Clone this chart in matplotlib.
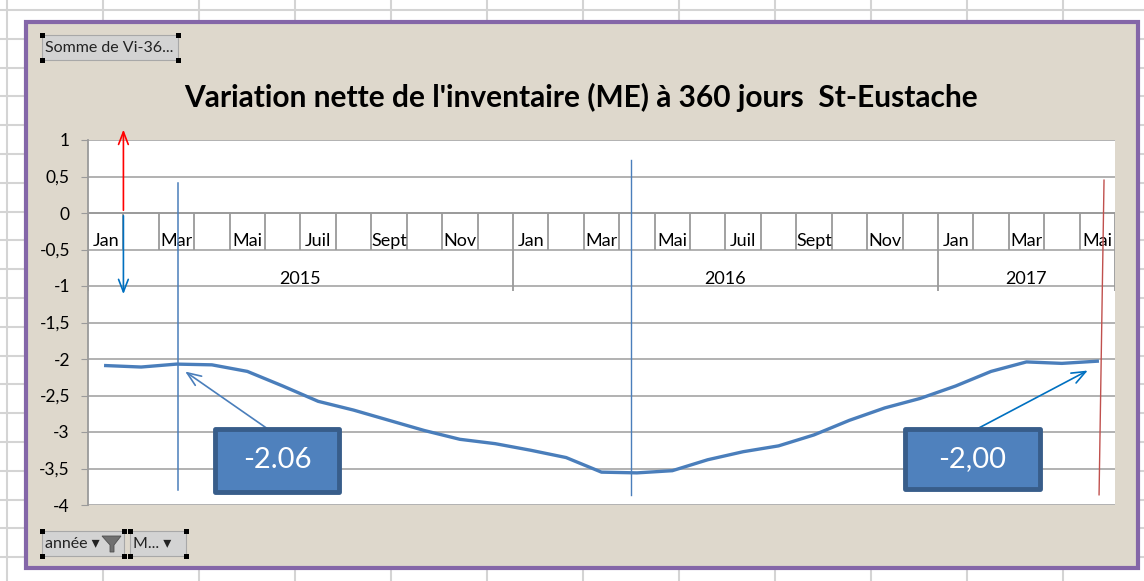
import numpy as np
import matplotlib
matplotlib.use("Agg")
import matplotlib.pyplot as plt
from matplotlib.patches import Rectangle, Polygon

plt.rcParams['font.family'] = ['Lato', 'DejaVu Sans']

# data ------------------------------------------------------------
years = [2015, 2016, 2017]
month_names = ['Jan', 'Fév', 'Mar', 'Avr', 'Mai', 'Juin', 'Juil', 'Août',
               'Sept', 'Oct', 'Nov', 'Déc']
months_per_year = [12, 12, 5]
values = [-2.09, -2.11, -2.07, -2.08, -2.17, -2.37, -2.58, -2.70, -2.84,
          -2.98, -3.10, -3.16, -3.25, -3.35, -3.55, -3.56, -3.53, -3.38,
          -3.27, -3.19, -3.04, -2.84, -2.67, -2.54, -2.37, -2.17, -2.04,
          -2.06, -2.03]
yticks = [1, 0.5, 0, -0.5, -1, -1.5, -2, -2.5, -3, -3.5, -4]
title = "Variation nette de l'inventaire (ME) à 360 jours  St-Eustache"
callouts = ["-2.06", "-2,00"]

W, H = 1144, 581
fig = plt.figure(figsize=(W / 100, H / 100), dpi=100)
fig.patch.set_facecolor('white')

# background: spreadsheet cells + chart frame (pixel coords)
bg = fig.add_axes([0, 0, 1, 1])
bg.set_xlim(0, W)
bg.set_ylim(H, 0)
bg.axis('off')
for gx in np.arange(7, W, 96):
    bg.axvline(gx, color='#D4D4D4', lw=1.5)
for gy in np.arange(10, H, 28.8):
    bg.axhline(gy, color='#D4D4D4', lw=1.5)
bg.add_patch(Rectangle((26, 22), 1112, 546, facecolor='#DED8CC',
                       edgecolor='#8466A8', lw=3, zorder=2))
bg.text(581, 97, title, ha='center', va='center', fontsize=21.5,
        fontweight='bold', zorder=3)


def field_button(x0, x1, y0, y1, label):
    bg.add_patch(Rectangle((x0, y0), x1 - x0, y1 - y0, facecolor='#D3D3D3',
                           edgecolor='#A8A8A8', lw=0.8, zorder=3))
    for cx in (x0, x1):
        for cy in (y0, y1):
            bg.add_patch(Rectangle((cx - 2.5, cy - 2.5), 5, 5,
                                   facecolor='black', zorder=4))
    bg.text(x0 + 3, (y0 + y1) / 2 + 1, label, ha='left', va='center',
            fontsize=11.5, color='#222222', zorder=4)


field_button(42, 178, 35, 60, 'Somme de Vi-36...')
field_button(42, 124, 531, 556, 'année ▾')
field_button(130, 186, 531, 556, 'M... ▾')
bg.add_patch(Polygon([(102, 536), (121, 536), (114, 545), (114, 552),
                      (110, 552), (110, 545)], closed=True,
                     facecolor='#707070', edgecolor='#505050', lw=0.6,
                     zorder=5))

# main plot -------------------------------------------------------
left, right, top, bottom = 88, 1115, 140, 505
ax = fig.add_axes([left / W, (H - bottom) / H, (right - left) / W,
                   (bottom - top) / H])
ax.set_facecolor('white')
n = len(values)
x = np.arange(n) + 0.5
ax.set_xlim(0, n)
ax.set_ylim(-4, 1)
ax.set_yticks(yticks)
ax.set_yticklabels([f'{v:g}'.replace('.', ',') for v in yticks],
                   fontsize=12.5)
ax.tick_params(axis='y', length=5, color='#9A9A9A', pad=8)
ax.set_xticks([])
ax.grid(axis='y', color='#ABABAB', lw=1.3)
ax.set_axisbelow(True)
for s in ('top', 'right', 'bottom'):
    ax.spines[s].set_visible(False)
ax.spines['left'].set_color('#9A9A9A')
ax.spines['left'].set_linewidth(1.3)

# multi-level category axis crossing at 0
ax.axhline(0, color='#9A9A9A', lw=1.3, zorder=1)
ax.vlines(np.arange(n + 1), -0.5, 0, color='#9A9A9A', lw=1.3, zorder=1)
labels = []
for yr, cnt in zip(years, months_per_year):
    labels += month_names[:cnt]
for i, lab in enumerate(labels):
    if i % 2 == 0:
        ax.text(i + 0.5, -0.38, lab, ha='center', va='center', fontsize=13)
starts = np.concatenate([[0], np.cumsum(months_per_year)])
ax.vlines(starts, -1.07, -0.5, color='#9A9A9A', lw=1.3, zorder=1)
for yr, a, b in zip(years, starts[:-1], starts[1:]):
    ax.text((a + b) / 2, -0.9, str(yr), ha='center', va='center',
            fontsize=13)

ax.plot(x, values, color='#4A7EBB', lw=2.4, solid_joinstyle='round',
        zorder=3)

# drawn annotations
ax.annotate('', xy=(1, 1.18), xytext=(1, 0), annotation_clip=False,
            arrowprops=dict(arrowstyle='->,head_length=0.9,head_width=0.35',
                            color='red', lw=1.2))
ax.annotate('', xy=(1, -1.15), xytext=(1, 0), annotation_clip=False,
            arrowprops=dict(arrowstyle='->,head_length=0.9,head_width=0.35',
                            color='#0070C0', lw=1.2))
ax.plot([2.54, 2.54], [0.41, -3.79], color='#4A7EBB', lw=1.1, zorder=4)
ax.plot([15.33, 15.33], [0.73, -3.86], color='#4A7EBB', lw=1.0, zorder=4)
ax.plot([28.69, 28.55], [0.45, -3.86], color='#C0504D', lw=1.0, zorder=4)

boxes = [((3.59, -3.82), 3.5, 0.86), ((23.07, -3.78), 3.81, 0.82)]
for (bx, by), bw, bh in boxes:
    ax.add_patch(Rectangle((bx, by), bw, bh, facecolor='#4F81BD',
                           edgecolor='#385D8A', lw=3.5, zorder=5,
                           joinstyle='round'))
for ((bx, by), bw, bh), txt in zip(boxes, callouts):
    ax.text(bx + bw / 2, by + bh / 2, txt, ha='center', va='center',
            color='white', fontsize=21, zorder=6)

ax.annotate('', xy=(2.68, -2.15), xytext=(5.2, -3.0),
            arrowprops=dict(arrowstyle='->,head_length=1.0,head_width=0.4',
                            color='#4A7EBB', lw=1.2), zorder=4)
ax.annotate('', xy=(28.3, -2.14), xytext=(24.94, -3.0),
            arrowprops=dict(arrowstyle='->,head_length=1.0,head_width=0.4',
                            color='#0070C0', lw=1.2), zorder=4)

fig.savefig('out.png', dpi=100)
